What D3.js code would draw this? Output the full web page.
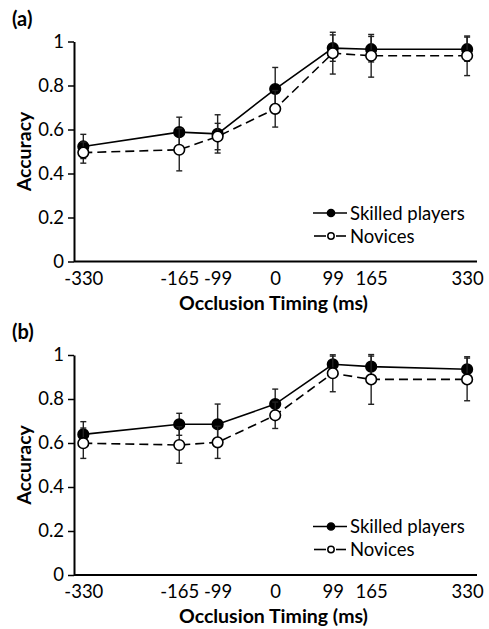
<!DOCTYPE html>
<html>
<head>
<meta charset="utf-8">
<script src="https://cdn.jsdelivr.net/npm/d3@7"></script>
<style>
  html, body { margin: 0; padding: 0; background: #fff; }
  svg { display: block; }
  text { font-family: Lato, "Open Sans", sans-serif; fill: #000; }
</style>
</head>
<body>
<svg id="chart" width="489" height="629"></svg>
<script>
// ---- Data ----
const timings = [-330, -165, -99, 0, 99, 165, 330];
const xTickLabels = ["-330", "-165", "-99", "0", "99", "165", "330"];
const yTicks = [0, 0.2, 0.4, 0.6, 0.8, 1];
const seriesNames = ["Skilled players", "Novices"];
const panelLabels = ["(a)", "(b)"];

const aSkilled    = [0.523, 0.588, 0.580, 0.784, 0.970, 0.965, 0.965];
const aSkilledErr = [0.055, 0.068, 0.087, 0.098, 0.060, 0.058, 0.055];
const aNovice     = [0.495, 0.508, 0.568, 0.694, 0.947, 0.935, 0.935];
const aNoviceErr  = [0.048, 0.096, 0.060, 0.083, 0.095, 0.097, 0.090];

const bSkilled    = [0.639, 0.685, 0.685, 0.777, 0.958, 0.947, 0.935];
const bSkilledErr = [0.058, 0.050, 0.092, 0.068, 0.037, 0.048, 0.057];
const bNovice     = [0.599, 0.591, 0.603, 0.726, 0.917, 0.889, 0.889];
const bNoviceErr  = [0.069, 0.083, 0.073, 0.060, 0.084, 0.113, 0.097];

// ---- Layout ----
const svg = d3.select("#chart");
const left = 74, right = 477, plotH = 220;
const panelTops = [41.5, 355];

const x = d3.scaleLinear().domain([-346, 347]).range([left, right]);

function drawPanel(top, label, sk, skErr, nv, nvErr) {
  const g = svg.append("g");
  const y = d3.scaleLinear().domain([0, 1]).range([top + plotH, top]);

  // panel label
  g.append("text").attr("x", 12).attr("y", top - 16)
    .attr("font-size", 20).attr("font-weight", "bold").text(label);

  // y axis
  const ya = g.append("g").attr("transform", `translate(${left},0)`)
    .call(d3.axisLeft(y).tickValues(yTicks).tickSize(6).tickSizeOuter(0).tickPadding(4)
      .tickFormat(d => d === 0 ? "0" : d === 1 ? "1" : d.toFixed(1)));
  ya.select(".domain").attr("stroke", "#000").attr("stroke-width", 2);
  ya.selectAll(".tick line").attr("stroke", "#000").attr("stroke-width", 1.5);
  ya.selectAll(".tick text").attr("font-size", 18.5).attr("font-family", "Lato, sans-serif").attr("fill", "#000");

  // x axis
  const xa = g.append("g").attr("transform", `translate(0,${top + plotH})`)
    .call(d3.axisBottom(x).tickValues(timings).tickSize(0).tickPadding(10)
      .tickFormat((d, i) => xTickLabels[i]));
  xa.select(".domain").attr("stroke", "#000").attr("stroke-width", 2)
    .attr("d", `M${left},0H${right}`);
  xa.selectAll(".tick text").attr("font-size", 18.5).attr("font-family", "Lato, sans-serif").attr("fill", "#000");

  // axis titles
  g.append("text").attr("x", (left + right) / 2 - 2).attr("y", top + plotH + 48)
    .attr("text-anchor", "middle").attr("font-size", 19.5).attr("font-weight", "bold")
    .text("Occlusion Timing (ms)");
  g.append("text")
    .attr("transform", `translate(31,${top + plotH / 2}) rotate(-90)`)
    .attr("text-anchor", "middle").attr("font-size", 19.5).attr("font-weight", "bold")
    .text("Accuracy");

  const line = d3.line().x((d, i) => x(timings[i])).y(d => y(d));

  function series(vals, errs, filled, dashed) {
    const s = g.append("g");
    const eb = s.selectAll("g.eb").data(vals).join("g");
    eb.append("line")
      .attr("x1", (d, i) => x(timings[i])).attr("x2", (d, i) => x(timings[i]))
      .attr("y1", (d, i) => y(d - errs[i])).attr("y2", (d, i) => y(d + errs[i]))
      .attr("stroke", "#222").attr("stroke-width", 1.4);
    [-1, 1].forEach(sgn => {
      eb.append("line")
        .attr("x1", (d, i) => x(timings[i]) - 3).attr("x2", (d, i) => x(timings[i]) + 3)
        .attr("y1", (d, i) => y(d + sgn * errs[i])).attr("y2", (d, i) => y(d + sgn * errs[i]))
        .attr("stroke", "#222").attr("stroke-width", 1.4);
    });
    s.append("path").datum(vals).attr("d", line)
      .attr("fill", "none").attr("stroke", "#000").attr("stroke-width", 1.6)
      .attr("stroke-dasharray", dashed ? "9,5" : null);
    s.selectAll("circle").data(vals).join("circle")
      .attr("cx", (d, i) => x(timings[i])).attr("cy", d => y(d)).attr("r", 5.3)
      .attr("fill", filled ? "#000" : "#fff").attr("stroke", "#000").attr("stroke-width", 1.6);
  }
  series(sk, skErr, true, false);
  series(nv, nvErr, false, true);

  // legend
  const lg = g.append("g");
  const rows = [{name: seriesNames[0], filled: true, dashed: false, yy: top + 171.5},
                {name: seriesNames[1], filled: false, dashed: true, yy: top + 194.5}];
  rows.forEach(r => {
    if (r.dashed) {
      lg.append("line").attr("x1", 314).attr("x2", 326).attr("y1", r.yy).attr("y2", r.yy)
        .attr("stroke", "#000").attr("stroke-width", 1.6);
      lg.append("line").attr("x1", 336).attr("x2", 346).attr("y1", r.yy).attr("y2", r.yy)
        .attr("stroke", "#000").attr("stroke-width", 1.6);
    } else {
      lg.append("line").attr("x1", 313).attr("x2", 347).attr("y1", r.yy).attr("y2", r.yy)
        .attr("stroke", "#000").attr("stroke-width", 1.6);
    }
    lg.append("circle").attr("cx", 331).attr("cy", r.yy).attr("r", r.filled ? 3.6 : 3.2)
      .attr("fill", r.filled ? "#000" : "#fff").attr("stroke", "#000").attr("stroke-width", 1.5);
    lg.append("text").attr("x", 350).attr("y", r.yy + 6.5).attr("font-size", 18.5).text(r.name);
  });
}

drawPanel(panelTops[0], panelLabels[0], aSkilled, aSkilledErr, aNovice, aNoviceErr);
drawPanel(panelTops[1], panelLabels[1], bSkilled, bSkilledErr, bNovice, bNoviceErr);
</script>
</body>
</html>
